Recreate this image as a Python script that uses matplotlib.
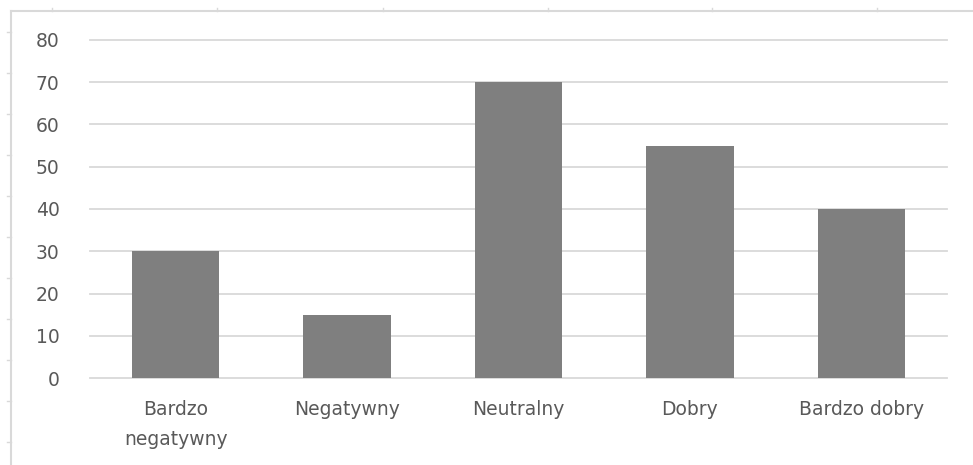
import matplotlib.pyplot as plt
from matplotlib.lines import Line2D

# ocena kategorii
categories = ["Bardzo\nnegatywny", "Negatywny", "Neutralny", "Dobry", "Bardzo dobry"]
values = [30, 15, 70, 55, 40]
y_ticks = [0, 10, 20, 30, 40, 50, 60, 70, 80]

W, H = 973, 465
fig = plt.figure(figsize=(W / 100, H / 100), dpi=100)
ax = fig.add_axes([90 / W, 1 - 378 / H, 857 / W, 338 / H])

text_col = "#595959"
grid_col = "#d9d9d9"

ax.bar(range(len(values)), values, width=0.51, color="#7f7f7f", zorder=3)

ax.set_xlim(-0.5, len(values) - 0.5)
ax.set_ylim(0, 80)
ax.set_yticks(y_ticks)
ax.yaxis.grid(True, color=grid_col, linewidth=1.3, zorder=0)
for gl in ax.get_ygridlines():
    gl.set_clip_on(False)
ax.set_xticks(range(len(values)))
ax.set_xticklabels(categories, linespacing=1.75)

for s in ax.spines.values():
    s.set_visible(False)
ax.tick_params(axis="both", length=0, labelsize=13.5, labelcolor=text_col)
ax.tick_params(axis="y", pad=22)
ax.tick_params(axis="x", pad=16)

# obramowanie wykresu z drobnymi znacznikami
def px_line(x0, y0, x1, y1, **kw):
    fig.add_artist(Line2D([x0 / W, x1 / W], [1 - y0 / H, 1 - y1 / H],
                          transform=fig.transFigure, color=grid_col, **kw))

px_line(11, 11, 11, H, linewidth=1.5)
px_line(11, 11, W, 11, linewidth=1.5)
for yy in range(32, H, 41):
    px_line(7, yy, 11, yy, linewidth=1)
for xx in [52, 217, 383, 548, 712, 877]:
    px_line(xx, 8, xx, 11, linewidth=1)

fig.savefig("out.png", dpi=100, facecolor="white")
